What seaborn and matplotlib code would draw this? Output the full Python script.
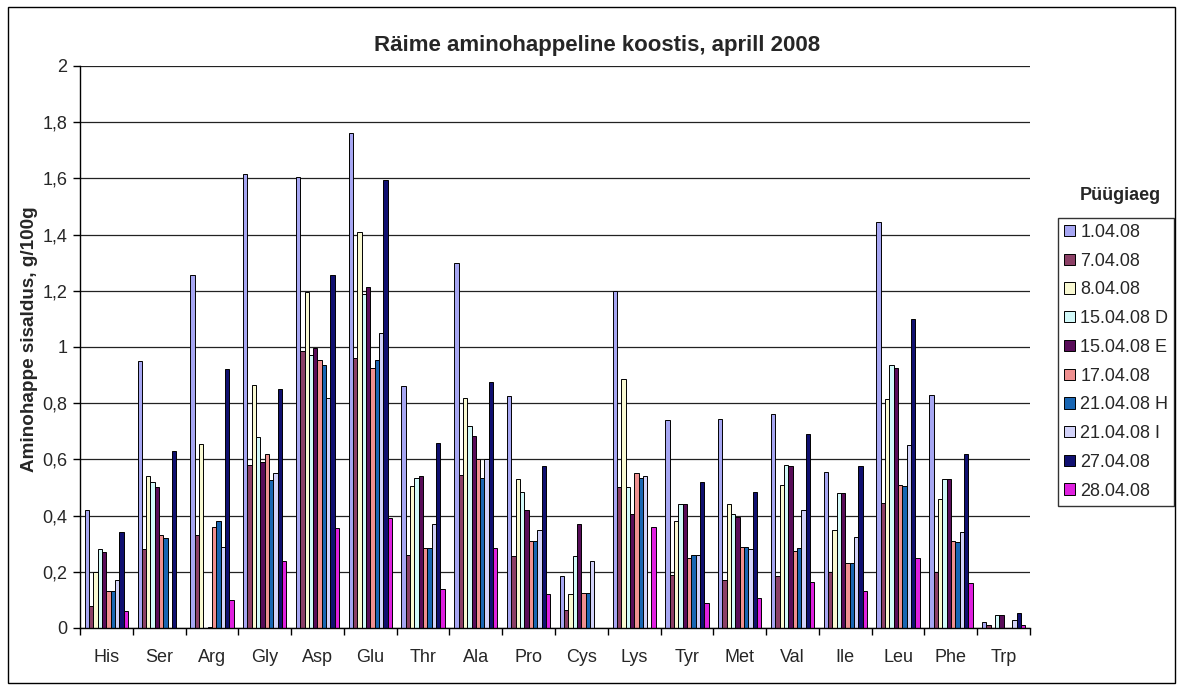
import numpy as np
import pandas as pd
import matplotlib
matplotlib.use("Agg")
import matplotlib.pyplot as plt
import matplotlib.patches as patches
from matplotlib.ticker import FuncFormatter, MultipleLocator
import seaborn as sns

# aminohapped (x-telg)
aminohapped = ["His", "Ser", "Arg", "Gly", "Asp", "Glu", "Thr", "Ala", "Pro",
               "Cys", "Lys", "Tyr", "Met", "Val", "Ile", "Leu", "Phe", "Trp"]

kuupaevad = ["1.04.08", "7.04.08", "8.04.08", "15.04.08 D", "15.04.08 E",
             "17.04.08", "21.04.08 H", "21.04.08 I", "27.04.08", "28.04.08"]

nan = np.nan
# sisaldus g/100g, iga proovi kohta (järjekord nagu aminohapped)
v_0104 = [0.42, 0.95, 1.255, 1.615, 1.605, 1.76, 0.86, 1.30, 0.825, 0.185, 1.20, 0.74, 0.745, 0.76, 0.555, 1.445, 0.83, 0.02]
v_0704 = [0.08, 0.28, 0.33, 0.58, 0.985, 0.96, 0.26, 0.545, 0.255, 0.065, 0.50, 0.19, 0.17, 0.185, 0.20, 0.445, 0.20, 0.01]
v_0804 = [0.20, 0.54, 0.655, 0.865, 1.195, 1.41, 0.505, 0.82, 0.53, 0.12, 0.885, 0.38, 0.44, 0.51, 0.35, 0.815, 0.46, nan]
v_1504D = [0.28, 0.52, nan, 0.68, 0.97, 1.19, 0.535, 0.72, 0.485, 0.255, 0.50, 0.44, 0.405, 0.58, 0.48, 0.935, 0.53, 0.045]
v_1504E = [0.27, 0.50, 0.005, 0.59, 0.995, 1.215, 0.54, 0.685, 0.42, 0.37, 0.405, 0.44, 0.395, 0.575, 0.48, 0.925, 0.53, 0.045]
v_1704 = [0.13, 0.33, 0.36, 0.62, 0.955, 0.925, 0.285, 0.60, 0.31, 0.125, 0.55, 0.25, 0.29, 0.275, 0.23, 0.51, 0.31, nan]
v_2104H = [0.13, 0.32, 0.38, 0.525, 0.935, 0.955, 0.285, 0.535, 0.31, 0.125, 0.535, 0.26, 0.29, 0.285, 0.23, 0.505, 0.305, nan]
v_2104I = [0.17, nan, 0.29, 0.55, 0.82, 1.05, 0.37, 0.60, 0.35, 0.24, 0.54, 0.26, 0.28, 0.42, 0.325, 0.65, 0.34, 0.03]
v_2704 = [0.34, 0.63, 0.92, 0.85, 1.255, 1.595, 0.66, 0.875, 0.575, nan, nan, 0.52, 0.485, 0.69, 0.575, 1.10, 0.62, 0.055]
v_2804 = [0.06, nan, 0.10, 0.24, 0.355, 0.39, 0.14, 0.285, 0.12, nan, 0.36, 0.09, 0.105, 0.165, 0.13, 0.25, 0.16, 0.01]

vaartused = [v_0104, v_0704, v_0804, v_1504D, v_1504E, v_1704, v_2104H, v_2104I, v_2704, v_2804]

varvid = ["#9999FF", "#993366", "#FFFFCC", "#CCFFFF", "#660066",
          "#FF8080", "#0066CC", "#CCCCFF", "#000080", "#FF00FF"]

rows = []
for kp, vals in zip(kuupaevad, vaartused):
    for hape, v in zip(aminohapped, vals):
        rows.append({"hape": hape, "kuupaev": kp, "sisaldus": v})
df = pd.DataFrame(rows)

sns.set_style("white")
plt.rcParams["font.family"] = ["Liberation Sans", "DejaVu Sans"]

fig = plt.figure(figsize=(11.83, 6.93), dpi=100)
ax = fig.add_axes([0.0676, 0.0938, 0.8031, 0.811])

sns.barplot(data=df, x="hape", y="sisaldus", hue="kuupaev",
            order=aminohapped, hue_order=kuupaevad, palette=varvid,
            width=0.82, gap=0, errorbar=None, edgecolor="black",
            linewidth=0.7, ax=ax)

ax.set_ylim(0, 2)
ax.set_xlim(-0.5, len(aminohapped) - 0.5)
ax.yaxis.set_major_locator(MultipleLocator(0.2))
ax.yaxis.set_major_formatter(FuncFormatter(lambda v, p: f"{v:.1f}".rstrip("0").rstrip(".").replace(".", ",") if v else "0"))
ax.grid(axis="y", color="#222222", linewidth=0.9)
ax.set_axisbelow(True)

# x-telje kriipsud kategooriate vahel, sildid keskel
ax.set_xticks(np.arange(-0.5, len(aminohapped), 1))
ax.set_xticklabels([])
ax.set_xticks(np.arange(len(aminohapped)), minor=True)
ax.set_xticklabels(aminohapped, minor=True)
ax.tick_params(axis="x", which="major", direction="out", length=5, width=1, color="black", bottom=True)
ax.tick_params(axis="x", which="minor", length=0, labelsize=13, pad=15)
ax.tick_params(axis="y", direction="out", length=5, width=1, color="black", left=True, labelsize=13, pad=4)

for s in ["top", "right"]:
    ax.spines[s].set_visible(False)
for s in ["left", "bottom"]:
    ax.spines[s].set_color("black")
    ax.spines[s].set_linewidth(1)

ax.set_xlabel("")
ax.set_ylabel("")
fig.text(0.025, 0.511, "Aminohappe sisaldus, g/100g", rotation=90, ha="center", va="center",
         fontsize=13.6, fontweight="bold")
fig.text(0.505, 0.935, "Räime aminohappeline koostis, aprill 2008", ha="center", va="center",
         fontsize=16, fontweight="bold")

leg = ax.legend(loc="upper left", bbox_to_anchor=(0.894, 0.686), bbox_transform=fig.transFigure,
                frameon=True, fancybox=False, fontsize=13, handlelength=0.6, handleheight=0.6,
                handletextpad=0.3, labelspacing=0.65, borderpad=0.35, borderaxespad=0)
leg.get_frame().set_edgecolor("black")
leg.get_frame().set_linewidth(1)
fig.text(0.947, 0.718, "Püügiaeg", ha="center", va="center", fontsize=13, fontweight="bold")

# välimine raam
fig.patches.append(patches.Rectangle((0.007, 0.014), 0.986, 0.976, transform=fig.transFigure,
                                     fill=False, edgecolor="black", linewidth=1))

fig.savefig("out.png", dpi=100)
